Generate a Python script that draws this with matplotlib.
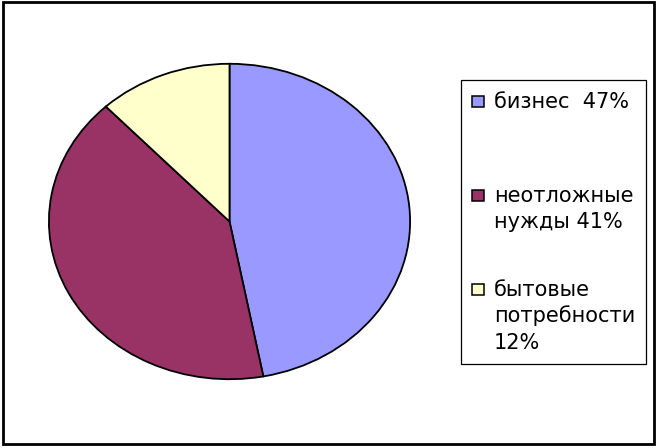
import matplotlib
matplotlib.use("Agg")
import matplotlib.pyplot as plt
from matplotlib.patches import Rectangle

categories = ["бизнес  47%", "неотложные\nнужды 41%", "бытовые\nпотребности\n12%"]
values = [47, 41, 12]
colors = ["#9999FF", "#993366", "#FFFFCC"]

W, H = 663, 448
fig = plt.figure(figsize=(W / 100, H / 100), dpi=100)
fig.patch.set_facecolor("white")

def fx(px):
    return px / W

def fy(py):
    return 1 - py / H

# Pie axes (elliptical pie like Excel)
left, right, top, bottom = 48, 411, 63, 380
ax = fig.add_axes([fx(left), fy(bottom), (right - left) / W, (bottom - top) / H])
wedges, _ = ax.pie(values, colors=colors, startangle=90, counterclock=False,
                   radius=1, wedgeprops=dict(edgecolor="black", linewidth=1.3))
ax.set_aspect("auto")
ax.set_xlim(-1.005, 1.005)
ax.set_ylim(-1.005, 1.005)
ax.axis("off")

# Legend box
lx0, ly0, lx1, ly1 = 461, 80, 646, 364
fig.patches.append(Rectangle((fx(lx0), fy(ly1)), (lx1 - lx0) / W, (ly1 - ly0) / H,
                             transform=fig.transFigure, facecolor="white",
                             edgecolor="black", linewidth=0.9, zorder=1))

first_baselines = [107.7, 201.7, 295.7]
line_step = 26.5
fs = 15
for lab, col, yb in zip(categories, colors, first_baselines):
    # marker square
    fig.patches.append(Rectangle((fx(472), fy(yb - 0.5)), 12 / W, 11 / H,
                                 transform=fig.transFigure, facecolor=col,
                                 edgecolor="black", linewidth=1.1, zorder=3))
    for i, line in enumerate(lab.split("\n")):
        fig.text(fx(494), fy(yb + i * line_step), line, ha="left", va="baseline",
                 fontsize=fs, family="DejaVu Sans", color="black", zorder=4)

# Outer frame
fig.patches.append(Rectangle((fx(2.5), fy(443.5)), (654 - 2.5) / W, (443.5 - 2.5) / H,
                             transform=fig.transFigure, facecolor="none",
                             edgecolor="black", linewidth=2.0, zorder=5))

fig.savefig("out.png", dpi=100)
